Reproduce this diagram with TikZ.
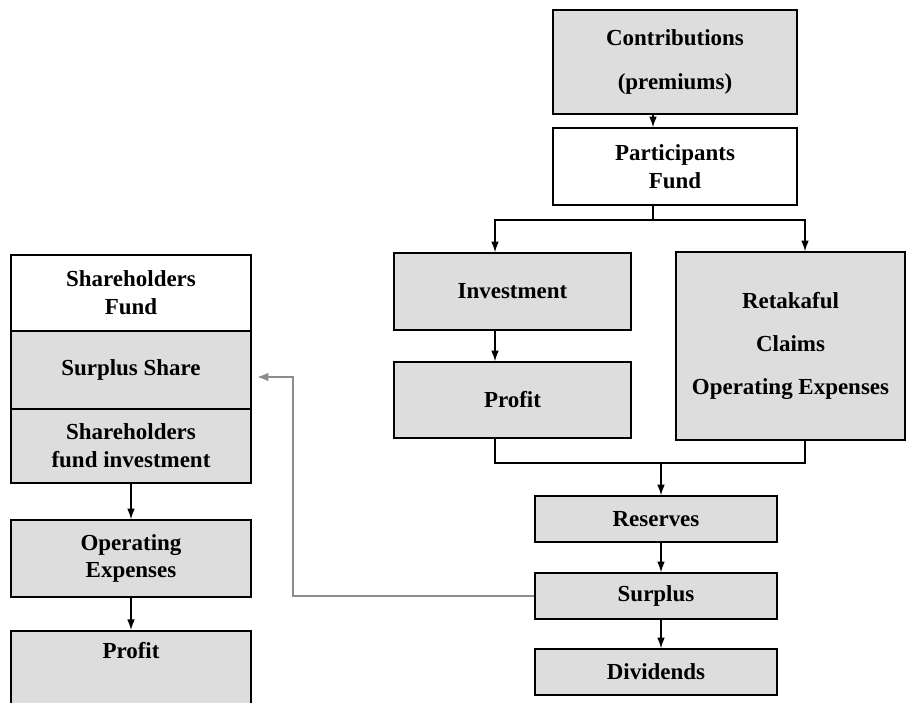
\documentclass[tikz,border=0pt]{standalone}
\usepackage{fontspec}
\setmainfont{Liberation Serif}
\usepackage{xcolor}
\usepackage{tikz}
\usetikzlibrary{arrows.meta, calc}

\definecolor{boxgray}{RGB}{221,221,221}
\definecolor{linkgray}{RGB}{140,140,140}

\tikzset{
    box/.style={draw=black, line width=1.3pt, fill=boxgray, inner sep=0pt, align=center,
        font=\fontsize{19.6}{23.8}\selectfont\bfseries},
    whitebox/.style={box, fill=white},
    arr/.style={line width=1.1pt, -{Latex[length=9pt, width=6.5pt]}},
    link/.style={line width=1.1pt},
    back/.style={draw=linkgray, line width=1.8pt, -{Latex[length=10pt, width=7.5pt]}, shorten >=0.15cm}
}

\begin{document}
\begin{tikzpicture}[x=0.03cm, y=-0.03cm]
            \useasboundingbox (0, 0) rectangle (908, 702);

            % participants side
            \node[box, minimum width=7.32cm, minimum height=3.12cm] (contrib) at (675, 62) {Contributions\\[0.51cm](premiums)};
            \node[whitebox, minimum width=7.32cm, minimum height=2.31cm] (part) at (675, 166.5) {Participants\\Fund};
            \node[box, minimum width=7.11cm, minimum height=2.31cm] (invest) at (512.5, 291.5) {Investment};
            \node[box, minimum width=7.11cm, minimum height=2.28cm] (profitR) at (512.5, 400) {Profit};
            \node[box, minimum width=6.87cm, minimum height=5.64cm] (retak) at (790.5, 346) {Retakaful\\[0.45cm]Claims\\[0.45cm]Operating Expenses};
            \node[box, minimum width=7.26cm, minimum height=1.38cm] (reserves) at (656, 519) {Reserves};
            \node[box, minimum width=7.26cm, minimum height=1.38cm] (surplus) at (656, 596) {Surplus};
            \node[box, minimum width=7.26cm, minimum height=1.38cm] (divid) at (656, 672) {Dividends};

            % shareholders side
            \node[whitebox, minimum width=7.2cm, minimum height=2.28cm] (shfund) at (131, 293) {Shareholders\\Fund};
            \node[box, minimum width=7.2cm, minimum height=2.34cm] (share) at (131, 370) {Surplus Share};
            \node[box, minimum width=7.2cm, minimum height=2.22cm] (shinv) at (131, 446) {Shareholders\\fund investment};
            \node[box, minimum width=7.2cm, minimum height=2.31cm] (opex) at (131, 558.5) {Operating\\Expenses};
            \node[box, anchor=north, minimum width=7.2cm, text height=0.84cm, text depth=1.56cm] (profitL) at (131, 630) {Profit};

            \coordinate (split) at (653, 220);
            \coordinate (lcol) at (495, 0);
            \coordinate (rcol) at (805, 0);
            \coordinate (merge) at (661, 463);
            \coordinate (bend) at (293, 377);

            \draw[arr] (contrib.south -| split) -- (part.north -| split);
            \draw[link] (part.south -| split) -- (split);
            \draw[arr] (split) -| (lcol |- invest.north);
            \draw[arr] (split) -| (rcol |- retak.north);
            \draw[arr] (lcol |- invest.south) -- (lcol |- profitR.north);
            \draw[link] (lcol |- profitR.south) |- (merge) -| (rcol |- retak.south);
            \draw[arr] (merge) -- (reserves.north -| merge);
            \draw[arr] (reserves.south -| merge) -- (surplus.north -| merge);
            \draw[arr] (surplus.south -| merge) -- (divid.north -| merge);

            \draw[arr] (shinv.south) -- (opex.north);
            \draw[arr] (opex.south) -- (profitL.north);

            \draw[back] (surplus.west) -| (bend) -- (share.east |- bend);
        \end{tikzpicture}
\end{document}
